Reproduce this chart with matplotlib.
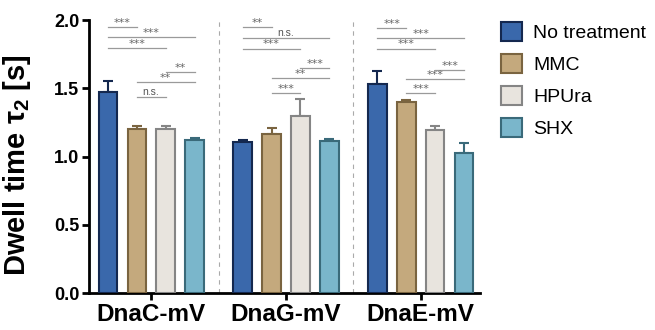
import matplotlib
matplotlib.use("Agg")
import matplotlib.pyplot as plt
from matplotlib.patches import Patch
import numpy as np

groups = ["DnaC-mV", "DnaG-mV", "DnaE-mV"]
treatments = ["No treatment", "MMC", "HPUra", "SHX"]
values = {
    "No treatment": [1.47, 1.11, 1.53],
    "MMC": [1.20, 1.163, 1.40],
    "HPUra": [1.20, 1.297, 1.194],
    "SHX": [1.12, 1.113, 1.028],
}
errors = {
    "No treatment": [0.083, 0.012, 0.095],
    "MMC": [0.026, 0.047, 0.014],
    "HPUra": [0.026, 0.122, 0.027],
    "SHX": [0.015, 0.013, 0.069],
}
fills = {"No treatment": "#3a68ab", "MMC": "#c4a97d", "HPUra": "#e8e4de", "SHX": "#7ab6cb"}
edges = {"No treatment": "#14284f", "MMC": "#7a6440", "HPUra": "#858585", "SHX": "#3a6a7a"}

# significance brackets: (treatment i, treatment j), heights and labels per group
sig_pairs = [(0, 1), (0, 3), (0, 2), (2, 3), (1, 3), (1, 2)]
sig_heights = [
    [1.95, 1.875, 1.795, 1.62, 1.545, 1.436],
    [1.95, 1.868, 1.79, 1.648, 1.575, 1.465],
    [1.94, 1.868, 1.79, 1.633, 1.567, 1.465],
]
sig_labels = [
    ["***", "***", "***", "**", "**", "n.s."],
    ["**", "n.s.", "***", "***", "**", "***"],
    ["***", "***", "***", "***", "***", "***"],
]

plt.rcParams['font.family'] = ['Liberation Sans', 'DejaVu Sans']
plt.rcParams['mathtext.default'] = 'regular'
fig = plt.figure(figsize=(6.55, 3.3), dpi=100)
ax = fig.add_axes([0.136, 0.112, 0.597, 0.827])

offsets = [-0.322, -0.107, 0.107, 0.322]
width = 0.136
x = np.arange(len(groups))
for k, t in enumerate(treatments):
    xs = x + offsets[k]
    ax.bar(xs, values[t], width, color=fills[t], edgecolor=edges[t], linewidth=1.5, zorder=3)
    ax.errorbar(xs, values[t], yerr=[np.zeros(3), errors[t]], fmt='none',
                ecolor=edges[t], elinewidth=1.5, capsize=3.5, capthick=1.5, zorder=2)

for g in range(len(groups)):
    for (i, j), h, lab in zip(sig_pairs, sig_heights[g], sig_labels[g]):
        x1, x2 = g + offsets[i], g + offsets[j]
        ax.plot([x1, x2], [h, h], color="#9a9a9a", lw=0.9, zorder=1)
        if lab.startswith("*"):
            ax.text((x1 + x2) / 2, h - 0.005, lab, ha='center', va='bottom',
                    fontsize=8, color="#666666", family='DejaVu Sans')
        else:
            ax.text((x1 + x2) / 2, h + 0.004, lab, ha='center', va='bottom',
                    fontsize=7.5, color="#555555")

for sx in [0.5, 1.5]:
    ax.axvline(sx, color="#aaaaaa", lw=0.8, ls=(0, (4, 4)), zorder=0)

ax.set_xlim(-0.46, 2.44)
ax.set_ylim(0, 2.0)
ax.set_yticks([0, 0.5, 1.0, 1.5, 2.0])
ax.set_yticklabels(["0.0", "0.5", "1.0", "1.5", "2.0"], fontsize=13, fontweight='bold')
ax.set_xticks(x)
ax.set_xticklabels(groups, fontsize=17.5, fontweight='bold')
ax.set_ylabel(r"Dwell time $\tau_{2}$ [s]", fontsize=21, fontweight='bold')
ax.yaxis.set_label_coords(-0.143, 0.47)
for s in ["top", "right"]:
    ax.spines[s].set_visible(False)
for s in ["left", "bottom"]:
    ax.spines[s].set_linewidth(2)
ax.tick_params(width=2, length=5, pad=2)

handles = [Patch(facecolor=fills[t], edgecolor=edges[t], linewidth=1.5, label=t) for t in treatments]
fig.legend(handles=handles, loc='upper left', bbox_to_anchor=(0.738, 0.985), frameon=False,
           fontsize=14, handlelength=1.1, handleheight=1.1, labelspacing=0.62, handletextpad=0.55)

fig.savefig("out.png", dpi=100)
